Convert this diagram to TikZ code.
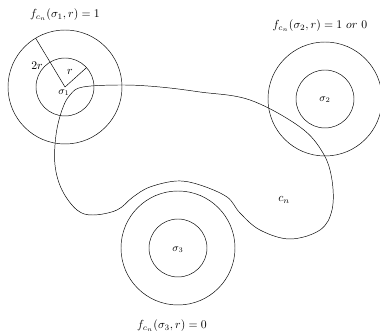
\documentclass[tikz,border=0pt]{standalone}
\usetikzlibrary{positioning}
\begin{document}
\begin{tikzpicture}[
  x=0.03cm, y=0.03cm,
  every node/.style={font=\normalsize},
  ring/.style={thin}
]
\useasboundingbox (0,0) rectangle (380,336);
% centres of the three regions
\coordinate (s1) at (65,249);
\coordinate (s2) at (325,237);
\coordinate (s3) at (178,88);
\foreach \c in {s1,s2,s3} {
  \draw[ring] (\c) circle (29);
  \draw[ring] (\c) circle (57);
}
% radii
\draw[ring] (s1) -- ++(121:57);
\draw[ring] (s1) -- ++(42:29);
\node (lr2) at (37,270) {$2r$};
\node (lr) at (70,264) {$r$};
\node[font=\small] (n1) at (64,243) {$\sigma_1$};
\node[font=\small] (n2) at (325,236) {$\sigma_2$};
\node[font=\small] (n3) at (178,86) {$\sigma_3$};
% the curve c_n
\draw[ring] plot[smooth cycle, tension=0.6] coordinates {
  (83,249) (123,251) (160,249) (200,244) (250,236) (300,209) (323,183)
  (332,156) (332,126) (320,106) (290,97) (260,106) (240,123) (227,139)
  (200,151) (177,155) (150,149) (133,139) (117,126) (93,121) (77,126)
  (62,146) (55,171) (56,201) (62,226) (70,241)};
\node (cn) at (284,136) {$c_n$};
% values
\node (f1) at (65,321) {$f_{c_n}(\sigma_1,r)=1$};
\node (f2) at (320,310) {$f_{c_n}(\sigma_2,r)=1\ or\ 0$};
\node (f3) at (172,10) {$f_{c_n}(\sigma_3,r)=0$};
\end{tikzpicture}
\end{document}
